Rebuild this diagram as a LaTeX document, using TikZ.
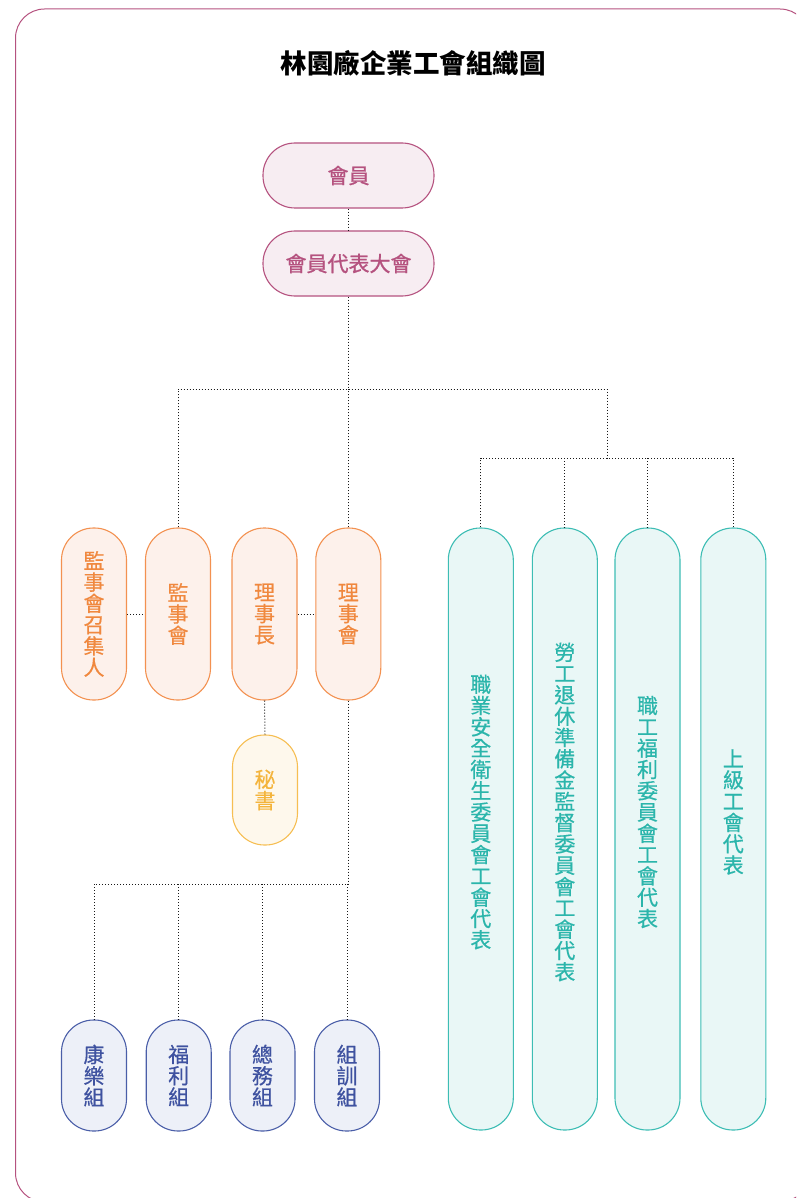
\documentclass[tikz,border=0pt]{standalone}
\usepackage{fontspec}
\newfontfamily\cjk{Noto Sans CJK TC}
\newfontfamily\cjkmed[FakeBold=0.5]{Noto Sans CJK TC}
\newfontfamily\cjksemi[FakeBold=1.1]{Noto Sans CJK TC}
\usetikzlibrary{calc}
\definecolor{framec}{HTML}{B5527F}
\definecolor{pinkc}{HTML}{B5527F}
\definecolor{pinkf}{HTML}{F7EDF2}
\definecolor{orgc}{HTML}{F39150}
\definecolor{orgt}{HTML}{F0883E}
\definecolor{orgf}{HTML}{FDF1EB}
\definecolor{yelc}{HTML}{F6BE52}
\definecolor{yelt}{HTML}{F4B43C}
\definecolor{yelf}{HTML}{FEF8EC}
\definecolor{tealc}{HTML}{3DBDB4}
\definecolor{tealt}{HTML}{2BB5AB}
\definecolor{tealf}{HTML}{E9F7F6}
\definecolor{bluec}{HTML}{4A5EA8}
\definecolor{bluet}{HTML}{3F52A0}
\definecolor{bluef}{HTML}{EDF0F8}
\begin{document}
\begin{tikzpicture}[x=1pt,y=-1pt,
  pill/.style={draw, line width=1.1pt, rounded corners=32pt, inner sep=0pt, align=center,
    minimum width=65pt, font={\cjkmed\fontsize{21}{21.3}\selectfont}},
  pinkbox/.style={pill, draw=pinkc, fill=pinkf, text=pinkc, minimum width=171pt, minimum height=65pt,
    font={\cjksemi\fontsize{21}{22}\selectfont}},
  orgbox/.style={pill, draw=orgc, fill=orgf, text=orgt, minimum height=172pt},
  yelbox/.style={pill, draw=yelc, fill=yelf, text=yelt, minimum height=110pt},
  bluebox/.style={pill, draw=bluec, fill=bluef, text=bluet, minimum height=111pt},
  tealbox/.style={pill, draw=tealc, fill=tealf, minimum height=602pt},
  tealtext/.style={inner sep=0pt, align=center, text=tealt, font={\cjkmed\fontsize{21}{21.3}\selectfont}},
  link/.style={draw=black!90, line width=1pt, dash pattern=on 1pt off 2pt}
]
\useasboundingbox (0,0) rectangle (796,1198);
\clip (0,0) rectangle (796,1198);
\draw[framec, line width=1pt, rounded corners=29pt] (15.5,9) rectangle (809,1202);

\node[font={\cjk\bfseries\fontsize{26.5}{28}\selectfont}, text=black] (title) at (413,63) {林園廠企業工會組織圖};

\node[pinkbox] (m1) at (348.5,175.5) {會員};
\node[pinkbox] (m2) at (348.5,263.5) {會員代表大會};

\node[orgbox] (s1) at (94,614) {監\\事\\會\\召\\集\\人};
\node[orgbox] (s2) at (178,614) {監\\事\\會};
\node[orgbox] (r1) at (264.5,614) {理\\事\\長};
\node[orgbox] (r2) at (348.3,614) {理\\事\\會};
\node[yelbox] (sec) at (265,790) {秘\\書};

\node[bluebox] (b1) at (94,1075.5) {康\\樂\\組};
\node[bluebox] (b2) at (178.7,1075.5) {福\\利\\組};
\node[bluebox] (b3) at (262.5,1075.5) {總\\務\\組};
\node[bluebox] (b4) at (347,1075.5) {組\\訓\\組};

\node[tealbox] (t1) at (480.8,829) {};
\node[tealbox] (t2) at (564.8,829) {};
\node[tealbox] (t3) at (647.5,829) {};
\node[tealbox] (t4) at (733.3,829) {};
\node[tealtext, yshift=17pt] (t1t) at (t1.center) {職\\業\\安\\全\\衛\\生\\委\\員\\會\\工\\會\\代\\表};
\node[tealtext, yshift=17pt] (t2t) at (t2.center) {勞\\工\\退\\休\\準\\備\\金\\監\\督\\委\\員\\會\\工\\會\\代\\表};
\node[tealtext, yshift=17pt] (t3t) at (t3.center) {職\\工\\福\\利\\委\\員\\會\\工\\會\\代\\表};
\node[tealtext, yshift=17pt] (t4t) at (t4.center) {上\\級\\工\\會\\代\\表};

\coordinate (bus1) at (607,389);
\coordinate (bus2) at (607,458);
\coordinate (bus3) at (96,884);

\draw[link] (m1.south) -- (m2.north);
\draw[link] (m2.south) -- (m2.south |- bus1);
\draw[link] (s2.north) -- (s2.north |- bus1) -- (bus1) -- (bus2);
\draw[link] (r2.north) -- (r2.north |- bus1);
\draw[link] (t1.north) -- (t1.north |- bus2) -- (t4.north |- bus2) -- (t4.north);
\draw[link] (t2.north |- bus2) -- (t2.north);
\draw[link] (t3.north |- bus2) -- (t3.north);
\draw[link] (s1.east) -- (s2.west);
\draw[link] (r1.east) -- (r2.west);
\draw[link] (r1.south) -- (sec.north);
\draw[link] (r2.south) -- (r2.south |- bus3) -- (b1.north |- bus3) -- (b1.north);
\draw[link] (b2.north |- bus3) -- (b2.north);
\draw[link] (b3.north |- bus3) -- (b3.north);
\draw[link] (b4.north |- bus3) -- (b4.north);
\end{tikzpicture}
\end{document}
